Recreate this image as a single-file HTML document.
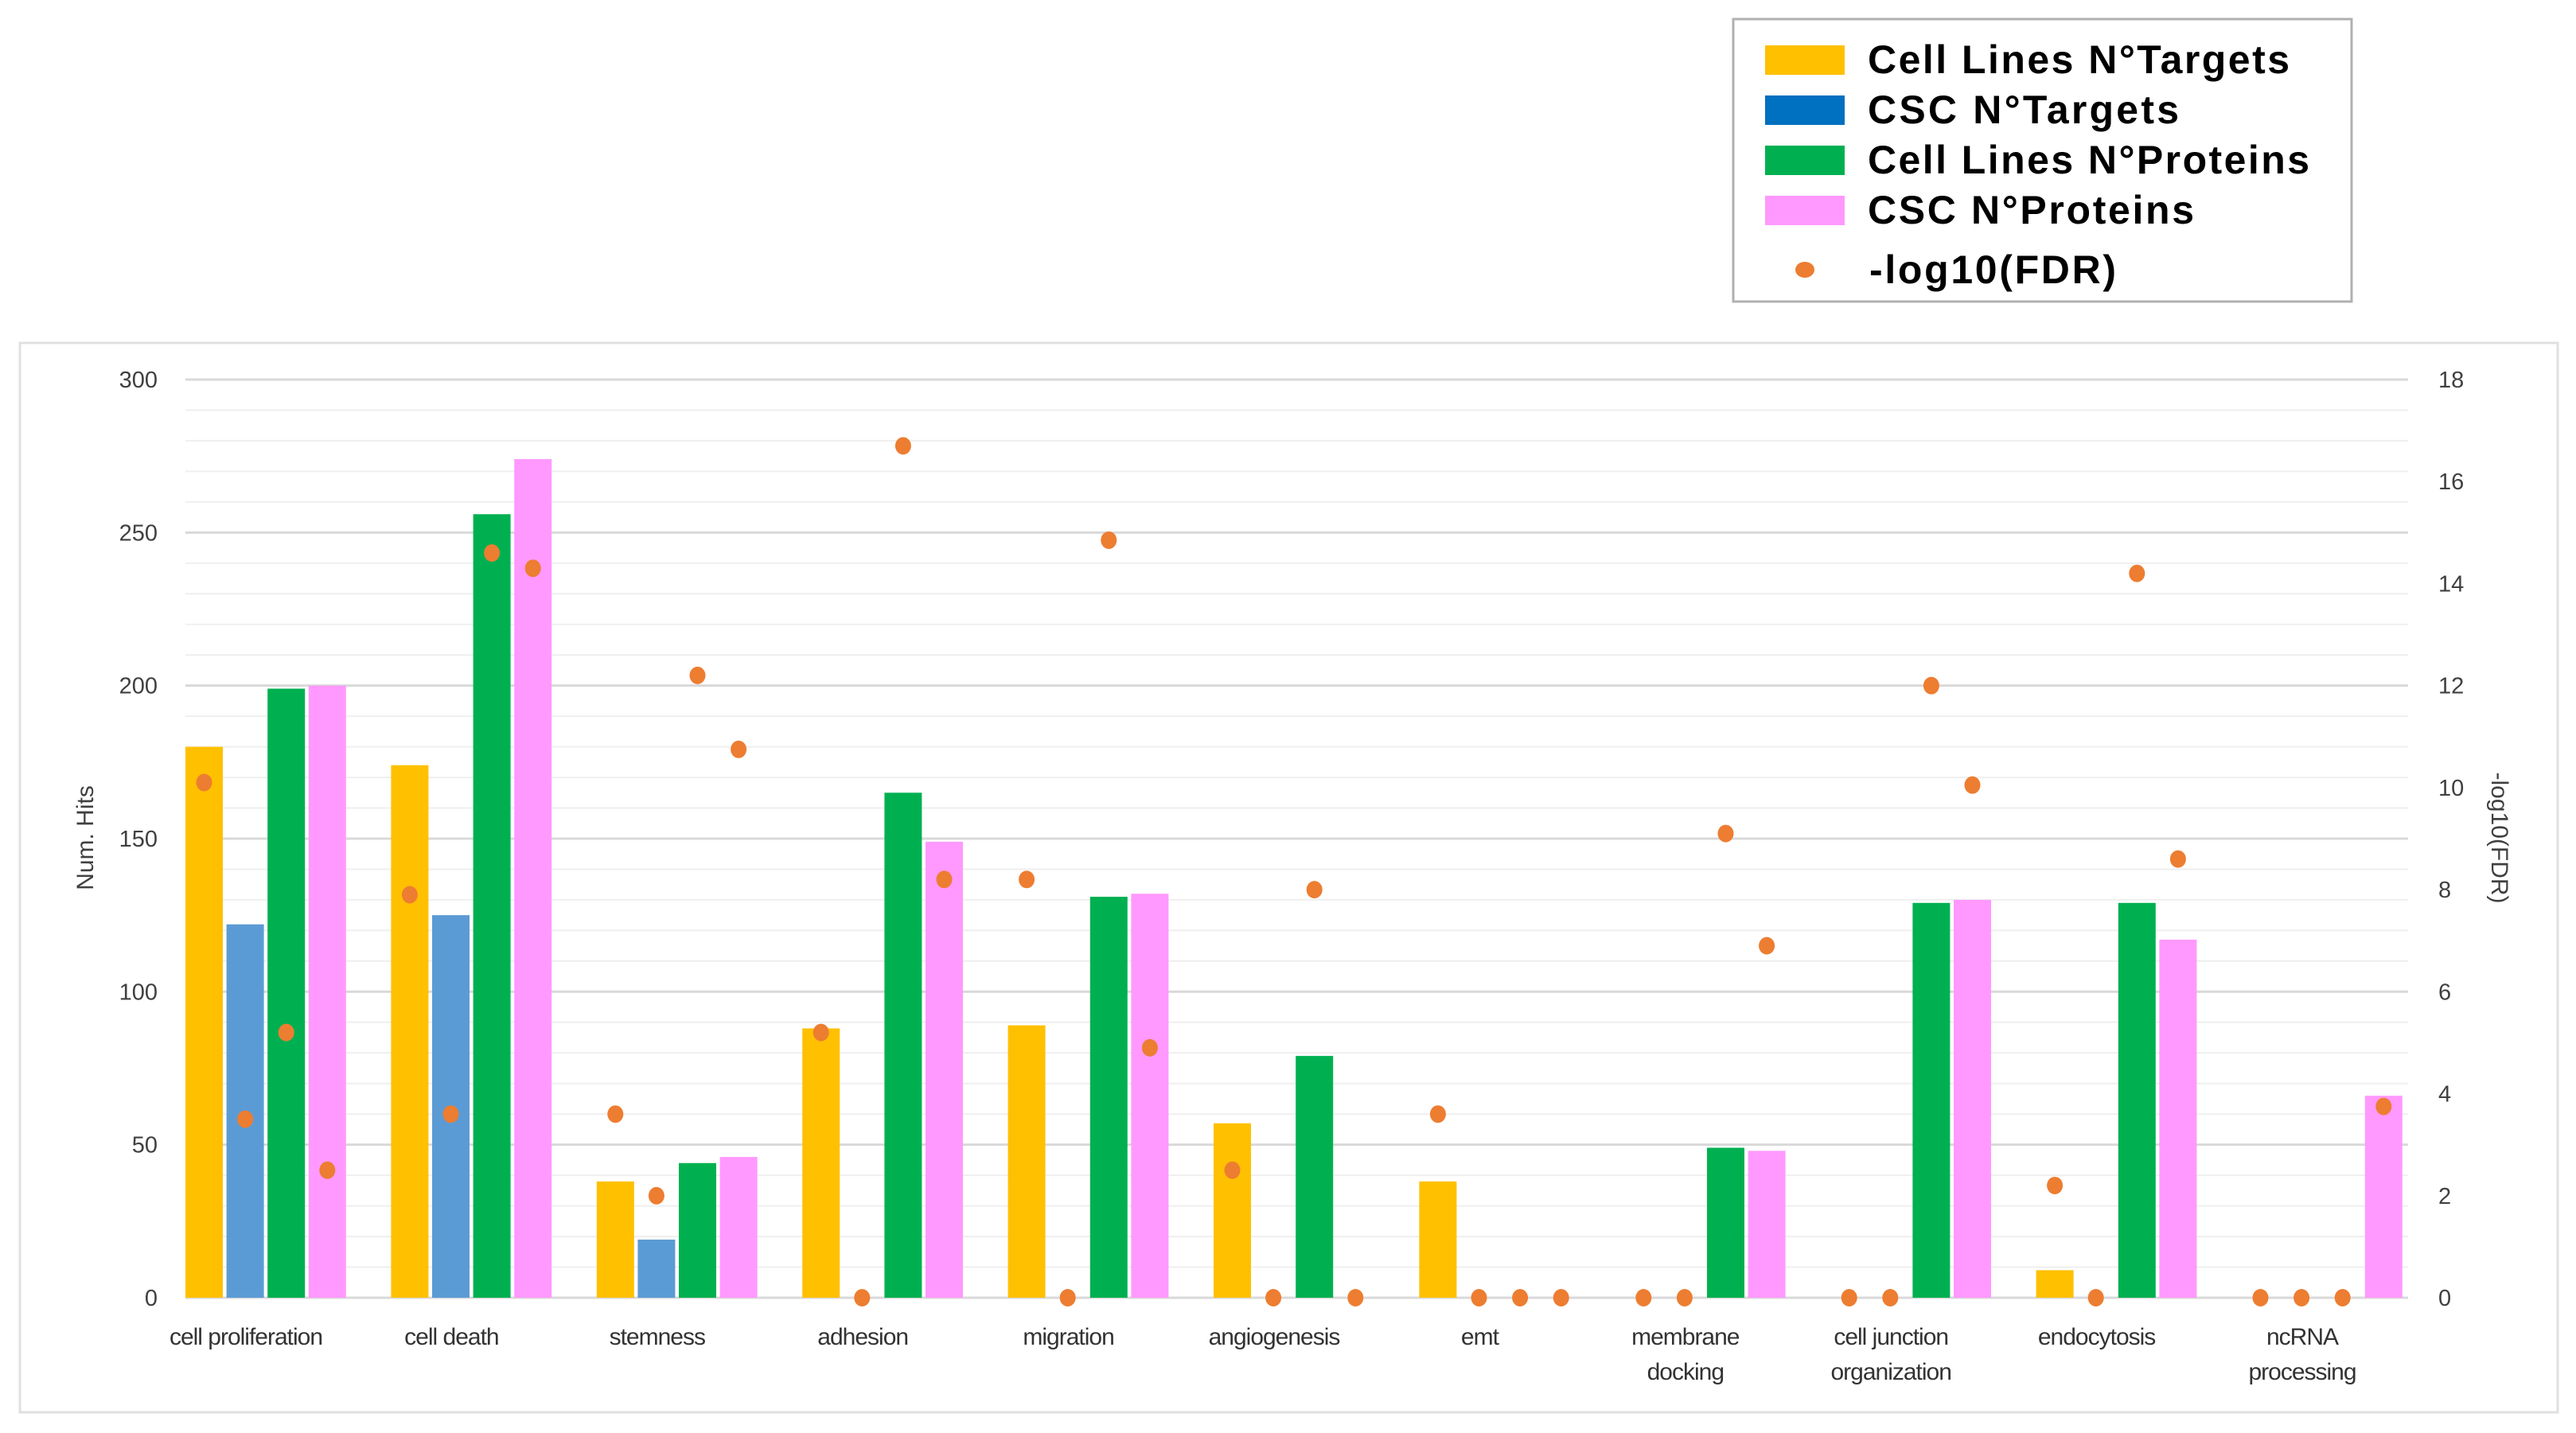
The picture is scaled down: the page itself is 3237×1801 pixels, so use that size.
<!DOCTYPE html>
<html><head><meta charset="utf-8"><style>
html,body{margin:0;padding:0;background:#fff;}
svg{display:block;font-family:"Liberation Sans",sans-serif;}
</style></head><body>
<svg id="chart" width="3237" height="1801" viewBox="0 0 3237 1801" xmlns="http://www.w3.org/2000/svg">
<rect x="25" y="431" width="3189" height="1344" fill="#fff" stroke="#e0e0e0" stroke-width="3"/>
<g id="grid"></g>
<g id="bars"></g>
<g id="dots"></g>
<g id="axes"></g>
<text transform="translate(117,1053) rotate(-90)" text-anchor="middle" font-size="30" fill="#404040">Num. Hits</text>
<text transform="translate(3131,1053) rotate(90)" text-anchor="middle" font-size="30" fill="#404040">-log10(FDR)</text>
<g>
<rect x="2178" y="24" width="777" height="355" fill="#fff" stroke="#b0b0b0" stroke-width="3"/>
<g><rect x="2218" y="57" width="100" height="37" fill="#FFC000"/><text x="2347" y="92" font-size="50" font-weight="bold" fill="#000" textLength="530">Cell Lines N°Targets</text></g>
<g><rect x="2218" y="120" width="100" height="37" fill="#0070C0"/><text x="2347" y="155" font-size="50" font-weight="bold" fill="#000" textLength="391">CSC N°Targets</text></g>
<g><rect x="2218" y="183" width="100" height="37" fill="#00B050"/><text x="2347" y="218" font-size="50" font-weight="bold" fill="#000" textLength="555">Cell Lines N°Proteins</text></g>
<g><rect x="2218" y="246" width="100" height="37" fill="#FF99FF"/><text x="2347" y="281" font-size="50" font-weight="bold" fill="#000" textLength="410">CSC N°Proteins</text></g>
<g><ellipse cx="2268" cy="339" rx="12" ry="10" fill="#ED7D31"/><text x="2349" y="356" font-size="50" font-weight="bold" fill="#000" textLength="310">-log10(FDR)</text></g>
</g>
</svg>
<script>
const categories = [["cell proliferation"],["cell death"],["stemness"],["adhesion"],["migration"],["angiogenesis"],["emt"],["membrane","docking"],["cell junction","organization"],["endocytosis"],["ncRNA","processing"]];
const cellLinesTargets = [180,174,38,88,89,57,38,0,0,9,0];
const cscTargets = [122,125,19,0,0,0,0,0,0,0,0];
const cellLinesProteins = [199,256,44,165,131,79,0,49,129,129,0];
const cscProteins = [200,274,46,149,132,0,0,48,130,117,66];
const fdrValues = [
 [10.1,3.5,5.2,2.5],[7.9,3.6,14.6,14.3],[3.6,2.0,12.2,10.75],[5.2,0,16.7,8.2],
 [8.2,0,14.85,4.9],[2.5,0,8.0,0],[3.6,0,0,0],[0,0,9.1,6.9],[0,0,12.0,10.05],
 [2.2,0,14.2,8.6],[0,0,0,3.75]];
const leftTicks = [0,50,100,150,200,250,300];
const rightTicks = [0,2,4,6,8,10,12,14,16,18];

const NS="http://www.w3.org/2000/svg";
const X0=233, X1=3026, Y0=1631, Y1=477, CATW=258.4, STEP=51.6, BW=47;
const yL=v=>Y0-(v/300)*(Y0-Y1);
const yR=v=>Y0-(v/18)*(Y0-Y1);
const xBar=(i,j)=>X0+i*CATW+j*STEP;
function mk(tag,attrs,parent){const e=document.createElementNS(NS,tag);for(const k in attrs)e.setAttribute(k,attrs[k]);parent.appendChild(e);return e;}
const grid=document.getElementById('grid'),bars=document.getElementById('bars'),dots=document.getElementById('dots'),axes=document.getElementById('axes');
for(let v=0;v<=300;v+=10){
  const l=mk('line',{x1:X0,x2:X1,y1:yL(v),y2:yL(v),stroke:v%50===0?'#d9d9d9':'#efefef','stroke-width':v%50===0?3:2},grid);
  
  
}
leftTicks.forEach(v=>{const t=mk('text',{x:198,y:yL(v)+10,'text-anchor':'end','font-size':29,fill:'#404040'},axes);t.textContent=v;
  
  });
rightTicks.forEach(v=>{const t=mk('text',{x:3064,y:yR(v)+10,'text-anchor':'start','font-size':29,fill:'#404040'},axes);t.textContent=v;
  
  });
const series=[[cellLinesTargets,'#FFC000','cell-lines-targets'],[cscTargets,'#5B9BD5','csc-targets'],[cellLinesProteins,'#00B050','cell-lines-proteins'],[cscProteins,'#FF99FF','csc-proteins']];
categories.forEach((c,i)=>{
  series.forEach((s,j)=>{
    const v=s[0][i];
    if(v>0){const r=mk('rect',{x:xBar(i,j),y:yL(v),width:BW,height:Y0-yL(v),fill:s[1]},bars);
      
      }
    const d=mk('ellipse',{cx:xBar(i,j)+BW/2,cy:yR(fdrValues[i][j]),rx:10,ry:11,fill:'#ED7D31'},dots);
    
    
  });
  const cx=X0+i*CATW+76;
  c.forEach((line,k)=>{const t=mk('text',{x:cx,y:1690+k*44,'text-anchor':'middle','font-size':30,fill:'#333','letter-spacing':'-1'},axes);t.textContent=line;
    
    });
});
</script>
</body></html>
